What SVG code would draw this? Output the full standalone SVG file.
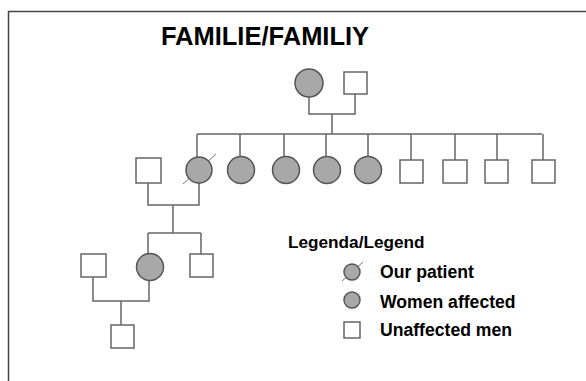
<svg xmlns="http://www.w3.org/2000/svg" width="586" height="381" viewBox="0 0 586 381">
<style>
.f{fill:#a8a8a8;stroke:#555;stroke-width:1.5}
.m{fill:#fff;stroke:#666;stroke-width:1.5}
.l{fill:none;stroke:#666;stroke-width:1.5}
.s{stroke:#777;stroke-width:1}
.t{font-family:"Liberation Sans",Arial,sans-serif;font-weight:bold;fill:#000}
</style>
<rect width="586" height="381" fill="#fff"/>
<path d="M8.5,381 V11.5 H586" fill="none" stroke="#444" stroke-width="1.5"/>
<text class="t" x="265" y="45" font-size="25.5" text-anchor="middle">FAMILIE/FAMILIY</text>
<g id="connectors">
<path class="l" d="M309,96 V114 H355 V94 M332,114 V134 M197,134 H542 M197,134 V157 M240,134 V157 M284,134 V157 M326,134 V157 M368,134 V157 M411,134 V160 M455,134 V160 M497,134 V160 M543,134 V160"/>
<path class="l" d="M148,183 V205 H199 V183 M173,205 V233 M148,233 H201 M148,233 V254 M201,233 V254"/>
<path class="l" d="M93,277 V301 H149 V280 M121,301 V325"/>
</g>
<g id="gp-mother"><circle class="f" cx="309" cy="83" r="14"/></g>
<g id="gp-father"><rect class="m" x="344" y="72" width="23" height="22"/></g>
<g id="spouse1"><rect class="m" x="136" y="158" width="25" height="25"/></g>
<g id="patient"><line class="s" x1="183" y1="184" x2="216" y2="154"/><circle class="f" cx="199" cy="170" r="13"/></g>
<g id="aunt1"><circle class="f" cx="241" cy="170" r="13.5"/></g>
<g id="aunt2"><circle class="f" cx="286" cy="170" r="13.5"/></g>
<g id="aunt3"><circle class="f" cx="327" cy="170" r="13.5"/></g>
<g id="aunt4"><circle class="f" cx="368" cy="170" r="13.5"/></g>
<g id="uncle1"><rect class="m" x="400" y="160" width="23" height="23"/></g>
<g id="uncle2"><rect class="m" x="443" y="160" width="24" height="23"/></g>
<g id="uncle3"><rect class="m" x="485" y="160" width="23" height="23"/></g>
<g id="uncle4"><rect class="m" x="532" y="160" width="23" height="23"/></g>
<g id="spouse2"><rect class="m" x="81" y="254" width="25" height="23"/></g>
<g id="daughter"><circle class="f" cx="150" cy="267" r="13.5"/></g>
<g id="son"><rect class="m" x="190" y="254" width="23" height="23"/></g>
<g id="grandson"><rect class="m" x="111" y="325" width="23" height="23"/></g>
<g id="legend">
<text class="t" x="288" y="248" font-size="17.2">Legenda/Legend</text>
<line class="s" x1="342" y1="281" x2="363" y2="262"/>
<circle class="f" cx="352" cy="272" r="8"/>
<text class="t" x="380" y="278" font-size="17.6">Our patient</text>
<circle class="f" cx="352" cy="300" r="8"/>
<text class="t" x="380" y="308" font-size="17.6">Women affected</text>
<rect class="m" x="344" y="322" width="16" height="16"/>
<text class="t" x="380" y="336" font-size="17.6">Unaffected men</text>
</g>
</svg>
